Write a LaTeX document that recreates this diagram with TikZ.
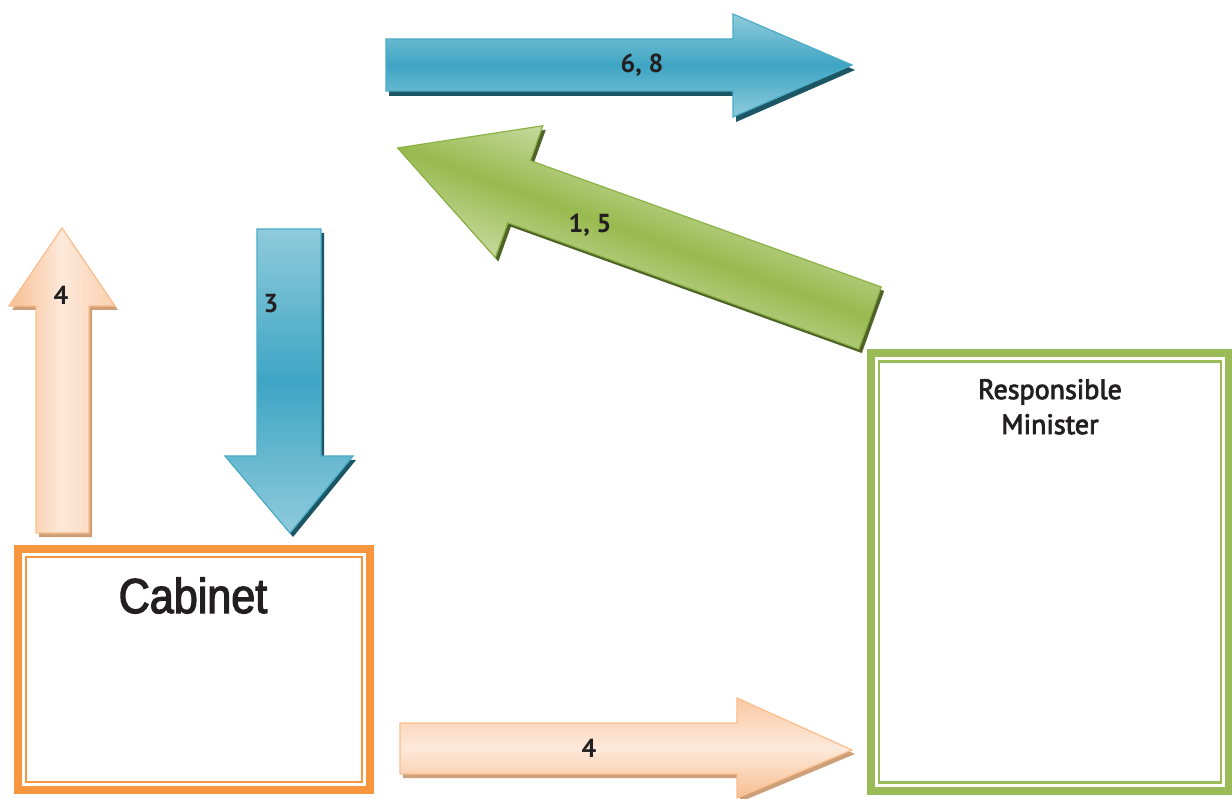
\documentclass[tikz,border=0pt]{standalone}
\usepackage{fontspec}
\setmainfont{PT Sans}
\newfontfamily\cabfont[FakeStretch=0.88, FakeBold=2.5]{Liberation Sans}
\newfontfamily\minfont[FakeBold=3]{PT Sans}

\definecolor{bluemid}{RGB}{62,165,196}
\definecolor{bluelight}{RGB}{143,203,219}
\definecolor{blueline}{RGB}{75,172,198}
\definecolor{blueshadow}{RGB}{28,85,100}
\definecolor{greenmid}{RGB}{152,186,78}
\definecolor{greenlight}{RGB}{198,217,158}
\definecolor{greenline}{RGB}{140,178,70}
\definecolor{greenshadow}{RGB}{79,98,40}
\definecolor{peachdark}{RGB}{248,190,146}
\definecolor{peachlight}{RGB}{253,233,218}
\definecolor{peachline}{RGB}{250,190,140}
\definecolor{peachshadow}{RGB}{205,160,122}
\definecolor{boxorange}{RGB}{247,150,62}
\definecolor{boxgreen}{RGB}{155,187,89}
\definecolor{ink}{RGB}{35,31,32}

\tikzset{
  bluearrow/.style={draw=blueline, line width=1.2pt, line join=miter,
    top color=bluelight, bottom color=bluelight, middle color=bluemid},
  greenarrow/.style={draw=greenline, line width=1.2pt, line join=miter,
    top color=greenlight, bottom color=greenlight, middle color=greenmid},
  peacharrow/.style={draw=peachline, line width=1.2pt, line join=miter},
  framebox/.style={draw=#1, line width=8pt, inner sep=0pt, outer sep=0pt},
  innerline/.style={draw=#1, line width=2.2pt},
  lbl/.style={text=ink, inner sep=0pt, font=\fontsize{26}{30}\selectfont\bfseries},
}

\begin{document}
\begin{tikzpicture}[x=1pt,y=-1pt]
\useasboundingbox (0,0) rectangle (1232,799);
\fill[white] (0,0) rectangle (1232,799);

% --- framed boxes ---
\node[framebox=boxorange, minimum width=352pt, minimum height=241pt]
      (cabinet) at (194,669.5) {};
\draw[innerline=boxorange] ([shift={(8,8)}]cabinet.north west)
      rectangle ([shift={(-8,-8)}]cabinet.south east);
\node[anchor=base, text=ink, inner sep=0pt, font=\fontsize{49}{52}\cabfont]
      (cabtxt) at (193,613) {Cabinet};

\node[framebox=boxgreen, minimum width=358pt, minimum height=438pt]
      (minister) at (1050,572) {};
\draw[innerline=boxgreen] ([shift={(8,8.5)}]minister.north west)
      rectangle ([shift={(-8,-8.5)}]minister.south east);
\node[anchor=north, align=center, text=ink, inner sep=0pt,
      font=\fontsize{28}{35}\minfont] (mintxt) at (1050,379)
      {Responsible\\Minister};

% --- top blue arrow (6, 8) ---
\fill[blueshadow, shift={(3,5)}] (386,39) -- (733,39) -- (733,14) -- (852,65)
      -- (733,117) -- (733,91) -- (386,91) -- cycle;
\draw[bluearrow] (386,39) -- (733,39) -- (733,14) -- (852,65)
      -- (733,117) -- (733,91) -- (386,91) -- cycle;
\node[lbl] (l68) at (642,65) {6, 8};

% --- slanted green arrow (1, 5) ---
\fill[greenshadow, transform canvas={shift={(873,322)}, rotate=160.2}]
      (0,-33) -- (373,-33) -- (373,-70) -- (502,0) -- (373,70) -- (373,33)
      -- (0,33) -- cycle;
\draw[greenarrow, transform canvas={shift={(870,318)}, rotate=160.2}]
      (0,-33) -- (373,-33) -- (373,-70) -- (502,0) -- (373,70) -- (373,33)
      -- (0,33) -- cycle;
\node[lbl] (l15) at (590,225) {1, 5};

% --- left orange arrow pointing up (4) ---
\fill[peachshadow, shift={(3,4)}] (36,533) -- (36,306) -- (9,306) -- (62,228)
      -- (115,306) -- (89,306) -- (89,533) -- cycle;
\draw[peacharrow, left color=peachdark, right color=peachdark!60!peachlight,
      middle color=peachlight]
      (36,533) -- (36,306) -- (9,306) -- (62,228)
      -- (115,306) -- (89,306) -- (89,533) -- cycle;
\node[lbl] (l4a) at (61,295) {4};

% --- blue arrow pointing down (3) ---
\fill[blueshadow, shift={(3,4)}] (257,229) -- (321,229) -- (321,456) -- (353,456)
      -- (290,533) -- (225,456) -- (257,456) -- cycle;
\draw[bluearrow] (257,229) -- (321,229) -- (321,456) -- (353,456)
      -- (290,533) -- (225,456) -- (257,456) -- cycle;
\node[lbl] (l3) at (271,304) {3};

% --- bottom orange arrow (4) ---
\fill[peachshadow, shift={(3,4)}] (400,723) -- (737,723) -- (737,698) -- (852,750)
      -- (737,798) -- (737,774) -- (400,774) -- cycle;
\draw[peacharrow, shading angle=20, top color=peachdark!75!peachlight,
      bottom color=peachdark, middle color=peachlight]
      (400,723) -- (737,723) -- (737,698) -- (852,750)
      -- (737,798) -- (737,774) -- (400,774) -- cycle;
\node[lbl] (l4b) at (589,748) {4};
\end{tikzpicture}
\end{document}
